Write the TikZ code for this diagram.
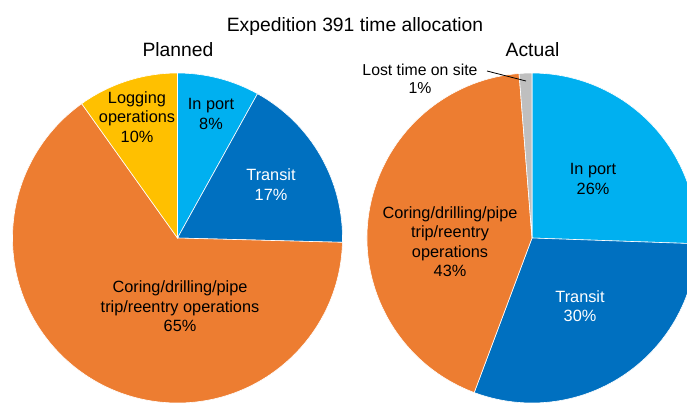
\documentclass[tikz,border=0pt]{standalone}
\usepackage{fontspec}
\setmainfont{Liberation Sans}
\definecolor{lblue}{HTML}{00B0F0}
\definecolor{dblue}{HTML}{0070C0}
\definecolor{xorange}{HTML}{ED7D31}
\definecolor{xgold}{HTML}{FFC000}
\definecolor{xgrey}{HTML}{BFBFBF}
\tikzset{
  slice/.style={draw=white, line width=0.6pt},
  lbl/.style={align=center, inner sep=0pt, font=\fontsize{16.3}{19.5}\selectfont},
  hdr/.style={anchor=base, inner sep=0pt, font=\fontsize{19.3}{23}\selectfont},
}
\begin{document}
\begin{tikzpicture}[x=1pt, y=-1pt]
\clip (0,0) rectangle (687,402);
\fill[white] (0,0) rectangle (687,402);
% left pie
\coordinate (L) at (177.5,238);
\def\R{165}
\fill[lblue, slice] (L) -- ++(-90:\R) arc[start angle=-90, end angle=-61, radius=\R] -- cycle;
\fill[dblue, slice] (L) -- ++(-61:\R) arc[start angle=-61, end angle=1.5, radius=\R] -- cycle;
\fill[xorange, slice] (L) -- ++(1.5:\R) arc[start angle=1.5, end angle=234.5, radius=\R] -- cycle;
\fill[xgold, slice] (L) -- ++(234.5:\R) arc[start angle=234.5, end angle=270, radius=\R] -- cycle;
% right pie
\coordinate (A) at (532,238);
\fill[lblue, slice] (A) -- ++(-90:\R) arc[start angle=-90, end angle=2, radius=\R] -- cycle;
\fill[dblue, slice] (A) -- ++(2:\R) arc[start angle=2, end angle=110.5, radius=\R] -- cycle;
\fill[xorange, slice] (A) -- ++(110.5:\R) arc[start angle=110.5, end angle=265.5, radius=\R] -- cycle;
\fill[xgrey, slice] (A) -- ++(265.5:\R) arc[start angle=265.5, end angle=270, radius=\R] -- cycle;
% titles
\node[hdr] (title) at (355,31) {Expedition 391 time allocation};
\node[hdr] (planned) at (178,56.7) {Planned};
\node[hdr] (actual) at (532.5,56.7) {Actual};
% left labels
\node[lbl] (llog) at (137,117) {Logging\\operations\\10\%};
\node[lbl] (lport) at (211,114) {In port\\8\%};
\node[lbl, text=white] (ltransit) at (271,184.7) {Transit\\17\%};
\node[lbl] (lcoring) at (180,306.5) {Coring/drilling/pipe\\trip/reentry operations\\65\%};
% right labels
\node[lbl] (aport) at (593,179) {In port\\26\%};
\node[lbl, text=white] (atransit) at (580,306) {Transit\\30\%};
\node[lbl] (acoring) at (450,241.5) {Coring/drilling/pipe\\trip/reentry\\operations\\43\%};
\node[lbl, font=\fontsize{15.8}{18.5}\selectfont] (alost) at (420,79) {Lost time on site\\1\%};
\coordinate (lostA) at (487,71);
\coordinate (lostB) at (526,81);
\draw[black, line width=0.8pt] (lostA) -- (lostB);
\end{tikzpicture}
\end{document}
